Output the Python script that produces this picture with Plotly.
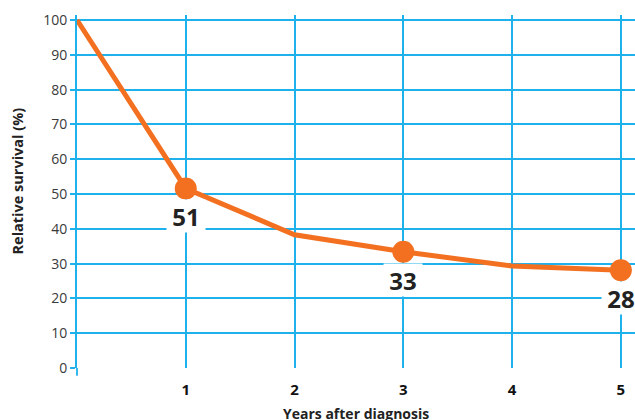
import plotly.graph_objects as go

years = [0, 1, 2, 3, 4, 5]
survival = [100, 51.6, 38.3, 33.4, 29.3, 28.1]
label_years = [1, 3, 5]
label_text = ["51", "33", "28"]
y_ticks = [0, 10, 20, 30, 40, 50, 60, 70, 80, 90, 100]
x_ticks = [1, 2, 3, 4, 5]

ORANGE = "#F37021"
BLUE = "#1EB1EC"
FONT = "Open Sans"

marker_y = [survival[years.index(x)] for x in label_years]

fig = go.Figure()
fig.add_trace(go.Scatter(x=years, y=survival, mode="lines",
                         line=dict(color=ORANGE, width=5), hoverinfo="skip"))
fig.add_trace(go.Scatter(x=label_years, y=marker_y, mode="markers",
                         marker=dict(color=ORANGE, size=22), hoverinfo="skip"))

for x, y, t in zip(label_years, marker_y, label_text):
    fig.add_annotation(x=x, y=y, text="<b>%s</b>" % t, showarrow=False,
                       xanchor="center", yshift=-28,
                       font=dict(family=FONT, size=24, color="#222222"),
                       bgcolor="white", borderpad=3, width=32, height=26)

fig.add_shape(type="line", xref="paper", yref="paper", x0=0, x1=0, y0=-0.022, y1=0,
              line=dict(color=BLUE, width=1.8))

fig.add_annotation(xref="paper", yref="paper", x=0.5, y=0, yshift=-45,
                   xanchor="center", yanchor="middle",
                   text="<b>Years after diagnosis</b>", showarrow=False,
                   font=dict(family=FONT, size=14, color="#222222"))
fig.add_annotation(xref="paper", yref="paper", x=0, xshift=-60, y=0.5, yshift=10,
                   xanchor="center", yanchor="middle",
                   text="<b>Relative survival (%)</b>", textangle=-90, showarrow=False,
                   font=dict(family=FONT, size=14.5, color="#222222"))

fig.update_layout(
    width=635, height=420,
    margin=dict(l=77, r=0, t=15, b=52),
    paper_bgcolor="white", plot_bgcolor="white",
    showlegend=False,
    xaxis=dict(range=[0, 5.13], tickvals=x_ticks, showgrid=True, gridcolor=BLUE, gridwidth=1.5,
               zeroline=False, showline=False, ticks="",
               tickfont=dict(family=FONT, size=15, color="#111111", weight="bold"),
               ticklabelstandoff=11),
    yaxis=dict(range=[0, 101.44], tickvals=y_ticks, showgrid=True, gridcolor=BLUE, gridwidth=1.5,
               zeroline=False, showline=True, linecolor=BLUE, linewidth=1.8,
               ticks="outside", ticklen=5, tickcolor=BLUE, tickwidth=1.5,
               tickfont=dict(family=FONT, size=14, color="#3a3a3a")),
)

fig.write_html("out.html", config={"displayModeBar": False},
               post_script="document.body.style.margin='0';document.body.style.overflow='hidden';")
